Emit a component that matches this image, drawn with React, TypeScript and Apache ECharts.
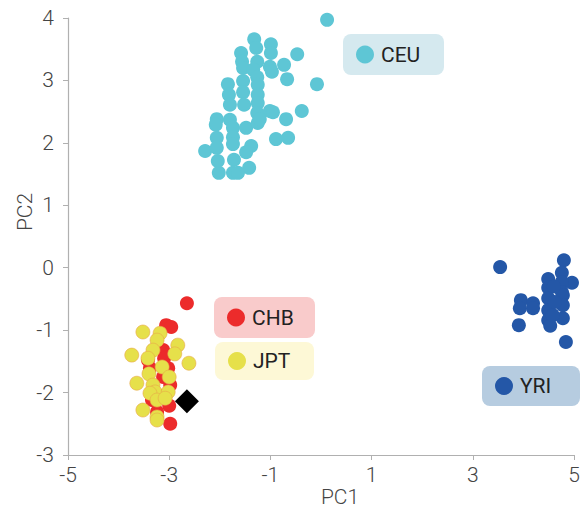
import React, { useEffect, useRef } from "react";
import * as echarts from "echarts";

const xTicks = [-5, -3, -1, 1, 3, 5];
const yTicks = [-3, -2, -1, 0, 1, 2, 3, 4];

const ceu: number[][] = [
  [0.12, 3.97], [-1.32, 3.66], [-1.28, 3.52], [-0.99, 3.58], [-0.99, 3.44], [-1.58, 3.44],
  [-1.56, 3.3], [-1.54, 3.2], [-1.26, 3.3], [-1.34, 3.17], [-1.01, 3.22], [-0.97, 3.14],
  [-0.73, 3.25], [-0.47, 3.42], [-0.67, 3.02], [-0.08, 2.94], [-1.84, 2.94], [-1.54, 2.99],
  [-1.26, 3.05], [-1.25, 2.93], [-1.82, 2.77], [-1.54, 2.81], [-1.25, 2.77], [-1.8, 2.61],
  [-1.52, 2.61], [-1.25, 2.64], [-1.26, 2.48], [-1.01, 2.51], [-0.95, 2.49], [-0.38, 2.51],
  [-2.06, 2.38], [-2.08, 2.29], [-1.8, 2.37], [-1.74, 2.24], [-1.48, 2.24], [-1.25, 2.32],
  [-1.21, 2.38], [-0.69, 2.38], [-1.74, 2.09], [-2.06, 2.08], [-1.74, 1.98], [-1.38, 1.95],
  [-1.48, 1.85], [-0.89, 2.06], [-0.65, 2.08], [-2.29, 1.87], [-2.06, 1.92], [-2.04, 1.71],
  [-1.72, 1.73], [-1.42, 1.6], [-2.02, 1.52], [-1.74, 1.52], [-1.64, 1.52],
];

const chb: number[][] = [
  [-2.65, -0.57], [-3.06, -0.92], [-2.96, -0.95], [-3.12, -1.32], [-3.38, -1.61], [-3.02, -1.61],
  [-3.12, -1.75], [-2.98, -1.88], [-3.34, -2.12], [-3.0, -2.21], [-3.24, -2.31], [-2.98, -2.5],
  [-3.42, -1.48], [-3.1, -1.45], [-3.2, -2.05],
];

const jpt: number[][] = [
  [-3.52, -1.03], [-3.18, -1.05], [-3.24, -1.16], [-2.83, -1.24], [-2.89, -1.38], [-3.74, -1.4],
  [-3.32, -1.32], [-3.42, -1.45], [-2.61, -1.53], [-3.14, -1.59], [-3.4, -1.7], [-3.0, -1.75],
  [-3.64, -1.85], [-3.32, -1.88], [-3.28, -1.99], [-3.02, -1.99], [-3.38, -2.01], [-3.24, -2.12],
  [-3.52, -2.28], [-3.24, -2.39], [-3.24, -2.44], [-3.08, -2.09],
];

const yri: number[][] = [
  [3.54, 0.01], [4.8, 0.12], [4.96, -0.24], [4.76, -0.08], [4.49, -0.18], [4.76, -0.23],
  [4.49, -0.32], [4.76, -0.39], [3.95, -0.52], [4.19, -0.57], [4.49, -0.49], [4.78, -0.44],
  [3.93, -0.65], [4.19, -0.65], [4.49, -0.68], [4.78, -0.6], [4.78, -0.81], [4.49, -0.84],
  [4.53, -0.93], [3.91, -0.92], [4.84, -1.19], [4.58, -0.76], [4.62, -0.55], [4.6, -0.3],
];

const target: number[][] = [[-2.65, -2.14]];

const legendItems = [
  { name: "CEU", x: 343, y: 34, w: 101, h: 41, bg: "#d5e9ef", dot: "#5ec6d5" },
  { name: "CHB", x: 214, y: 297, w: 101, h: 41, bg: "#f9cbcb", dot: "#ec2b2b" },
  { name: "JPT", x: 215, y: 342, w: 99, h: 38, bg: "#fdf8d6", dot: "#e6e04a" },
  { name: "YRI", x: 482, y: 366, w: 98, h: 40, bg: "#b6cce0", dot: "#2457a7" },
];

const FONT = "Roboto";

export default function App() {
  const ref = useRef<HTMLDivElement>(null);
  useEffect(() => {
    if (!ref.current) return;
    const chart = echarts.init(ref.current, undefined, { renderer: "svg" });
    const mk = (name: string, data: number[][], color: string, extra: any = {}) => ({
      name,
      type: "scatter",
      data,
      symbolSize: 14,
      itemStyle: { color, opacity: 1, ...extra },
    });
    const graphics: any[] = [];
    legendItems.forEach((l) => {
      graphics.push({
        type: "group",
        x: l.x,
        y: l.y,
        children: [
          { type: "rect", shape: { x: 0, y: 0, width: l.w, height: l.h, r: 8 }, style: { fill: l.bg } },
          { type: "circle", shape: { cx: 22, cy: l.h / 2, r: 9 }, style: { fill: l.dot } },
          {
            type: "text",
            x: 38,
            y: l.h / 2,
            style: { text: l.name, fill: "#222", font: `400 21px ${FONT}`, textVerticalAlign: "middle" },
          },
        ],
      });
    });
    graphics.push({
      type: "text",
      x: 340,
      y: 497,
      style: { text: "PC1", fill: "#444", font: `300 21px ${FONT}`, textAlign: "center", textVerticalAlign: "middle" },
    });
    graphics.push({
      type: "text",
      x: 25,
      y: 212,
      rotation: Math.PI / 2,
      style: { text: "PC2", fill: "#444", font: `300 21px ${FONT}`, textAlign: "center", textVerticalAlign: "middle" },
    });
    chart.setOption({
      animation: false,
      grid: { left: 68, right: 12, top: 18, bottom: 56 },
      xAxis: {
        type: "value",
        min: -5,
        max: 5,
        interval: 2,
        splitLine: { show: false },
        axisLine: { show: true, onZero: false, lineStyle: { color: "#b0b0b0", width: 1.2 } },
        axisTick: { show: true, length: 5, lineStyle: { color: "#b0b0b0" } },
        axisLabel: {
          margin: 9,
          color: "#444",
          fontSize: 21,
          fontFamily: FONT,
          fontWeight: 300,
          formatter: (v: number) => (xTicks.includes(v) ? String(v) : ""),
        },
      },
      yAxis: {
        type: "value",
        min: -3,
        max: 4,
        interval: 1,
        splitLine: { show: false },
        axisLine: { show: true, onZero: false, lineStyle: { color: "#b0b0b0", width: 1.2 } },
        axisTick: { show: true, length: 5, lineStyle: { color: "#b0b0b0" } },
        axisLabel: {
          margin: 14,
          color: "#444",
          fontSize: 21,
          fontFamily: FONT,
          fontWeight: 300,
          formatter: (v: number) => (yTicks.includes(v) ? String(v) : ""),
        },
      },
      series: [
        mk("CEU", ceu, "#5ec6d5"),
        mk("YRI", yri, "#2457a7"),
        mk("CHB", chb, "#ec2b2b"),
        mk("JPT", jpt, "#e6e04a", { borderColor: "#e8a848", borderWidth: 0.6 }),
        {
          name: "target",
          type: "scatter",
          data: target,
          symbol: "diamond",
          symbolSize: [24, 24],
          itemStyle: { color: "#000", opacity: 1 },
        },
      ],
      graphic: graphics,
    });
    return () => chart.dispose();
  }, []);
  return (
    <div
      ref={ref}
      style={{ position: "fixed", left: 0, top: 0, width: 586, height: 511, background: "#fff" }}
    />
  );
}
